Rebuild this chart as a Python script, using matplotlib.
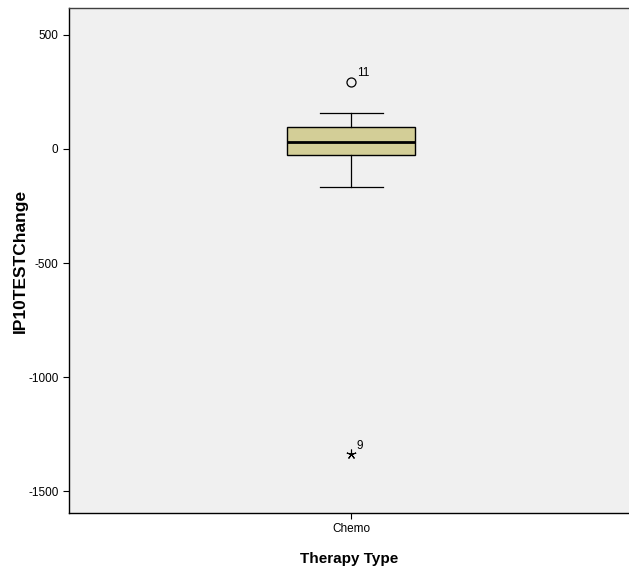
import matplotlib
matplotlib.use("Agg")
import matplotlib.pyplot as plt

plt.rcParams['font.family'] = ['Liberation Sans', 'DejaVu Sans']

# box summary
groups = ["Chemo"]
q1 = [-26]
median = [31]
q3 = [96]
whisker_low = [-167]
whisker_high = [158]
outlier_circle = [294]
outlier_circle_id = ["11"]
extreme_star = [-1338]
extreme_star_id = ["9"]
yticks = [500, 0, -500, -1000, -1500]

fig = plt.figure(figsize=(6.29, 5.68), dpi=100)
ax = fig.add_axes([69 / 629, 55 / 568, 560 / 629, 505 / 568])
ax.set_facecolor("#f0f0f0")

stats = []
for i, g in enumerate(groups):
    stats.append(dict(label=g, q1=q1[i], med=median[i], q3=q3[i],
                      whislo=whisker_low[i], whishi=whisker_high[i], fliers=[]))

ax.bxp(stats, positions=[1], widths=0.229, patch_artist=True, showfliers=False,
       boxprops=dict(facecolor="#d3ce97", edgecolor="black", linewidth=1.0),
       medianprops=dict(color="black", linewidth=2.0),
       whiskerprops=dict(color="black", linewidth=0.9),
       capprops=dict(color="black", linewidth=0.9),
       capwidths=0.1125)

for i in range(len(groups)):
    ax.plot([1], [outlier_circle[i]], marker="o", markersize=6.5, markerfacecolor="none",
            markeredgecolor="black", markeredgewidth=0.9, linestyle="none")
    ax.annotate(outlier_circle_id[i], (1, outlier_circle[i]), xytext=(4, 4),
                textcoords="offset points", fontsize=8.5)
    ax.plot([1], [extreme_star[i]], marker=(5, 2, 0), markersize=7,
            markeredgecolor="black", markeredgewidth=0.8, linestyle="none")
    ax.annotate(extreme_star_id[i], (1, extreme_star[i]), xytext=(4, 4),
                textcoords="offset points", fontsize=8.5)

ax.set_xlim(0.496, 1.496)
ax.set_ylim(-1596, 618)
ax.set_yticks(yticks)
ax.set_yticklabels([str(t) for t in yticks])
ax.tick_params(axis="both", labelsize=8.5, length=4, width=0.8)
ax.spines["right"].set_visible(False)
for s in ["left", "bottom", "top"]:
    ax.spines[s].set_linewidth(1.0)
ax.spines["top"].set_color("#404040")

ax.set_ylabel("IP10TESTChange", fontsize=12.5, fontweight="bold")
ax.yaxis.set_label_coords(-0.074, 0.5)
ax.set_xlabel("Therapy Type", fontsize=11, fontweight="bold", labelpad=12)

fig.savefig("out.png", dpi=100)
